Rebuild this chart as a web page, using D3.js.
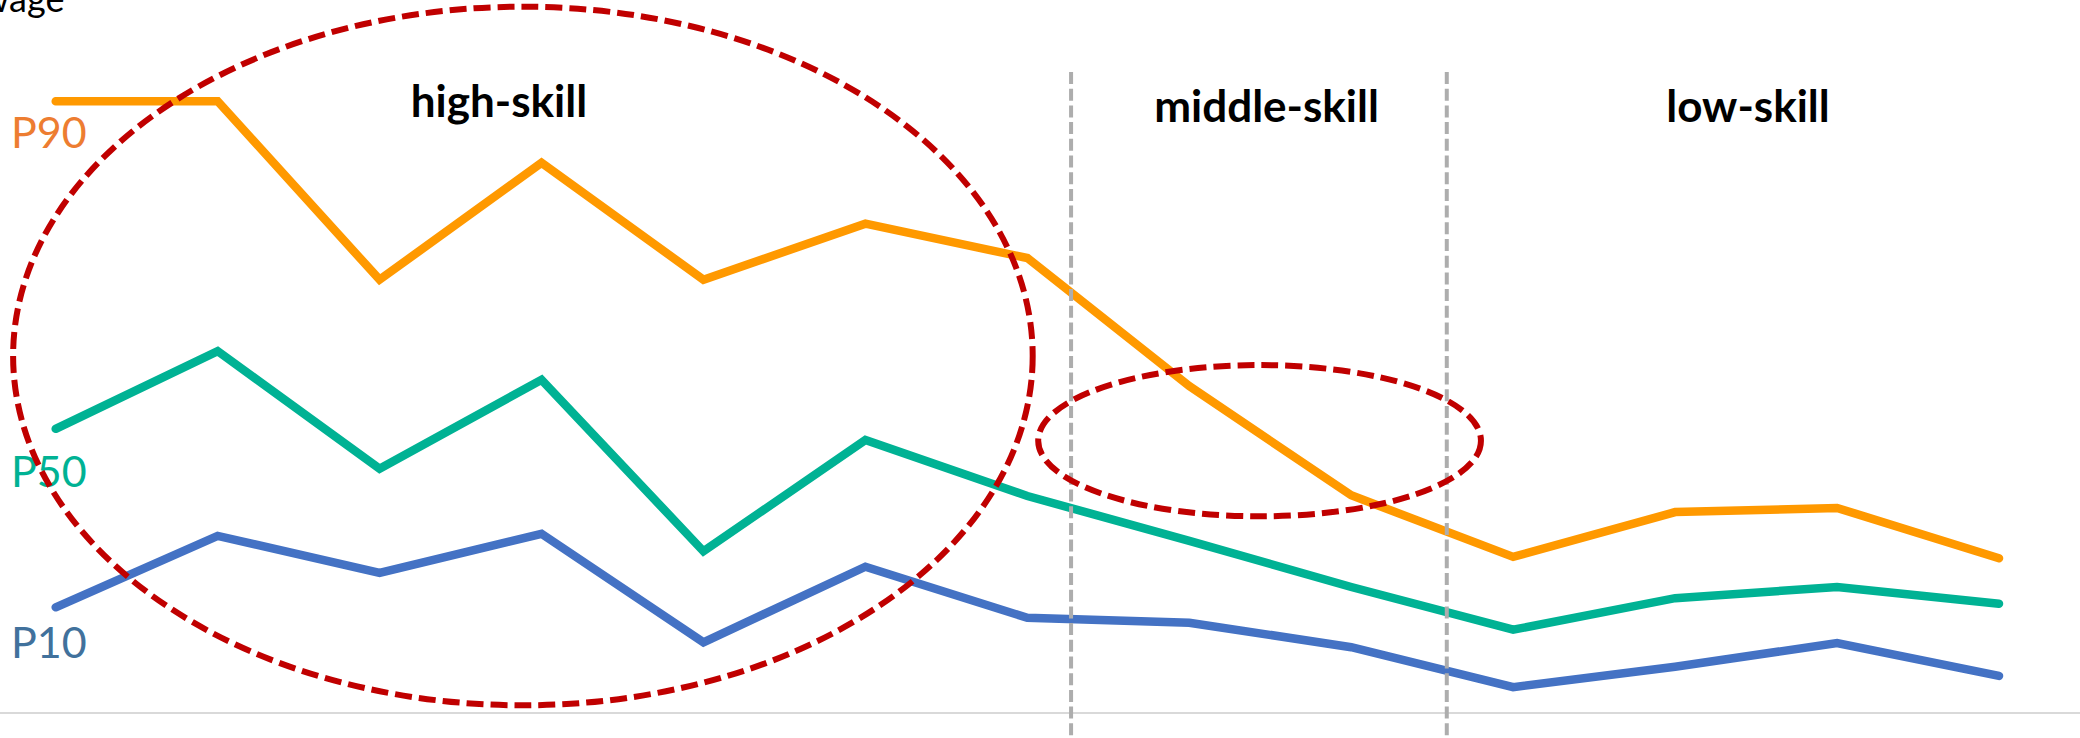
<!DOCTYPE html>
<html>
<head>
<meta charset="utf-8">
<script src="https://cdn.jsdelivr.net/npm/d3@7"></script>
<style>
  html, body { margin: 0; padding: 0; background: #fff; overflow: hidden; }
  svg { display: block; }
</style>
</head>
<body>
<svg id="chart"></svg>
<script>
// occupations ranked from high-skill to low-skill
const occupations = ["o1", "o2", "o3", "o4", "o5", "o6", "o7", "o8", "o9", "o10", "o11", "o12", "o13"];

const p90 = [87.4, 87.4, 61.9, 78.6, 61.9, 69.9, 65.0, 46.7, 31.1, 22.3, 28.7, 29.3, 22.1];
const p50 = [40.6, 51.7, 34.9, 47.6, 23.1, 39.0, 31.0, 24.6, 18.0, 11.9, 16.4, 18.0, 15.6];
const p10 = [15.1, 25.3, 20.0, 25.6, 10.1, 20.9, 13.6, 12.9, 9.4, 3.7, 6.6, 10.0, 5.3];

const seriesNames = ["P90", "P50", "P10"];

// group boundaries, in occupation-index units
const groupBreaks = [6.27, 8.59];
const groupLabels = ["high-skill", "middle-skill", "low-skill"];
const groupLabelPos = [2.737, 7.477, 10.45];

// highlighted areas (center and radii in data units)
const circles = [
  { cx: 2.885, cy: 51.0, rx: 3.148, ry: 49.9 },
  { cx: 7.434, cy: 38.9, rx: 1.367, ry: 10.8 },
];

const width = 2080;
const height = 738;

const svg = d3.select("#chart").attr("width", width).attr("height", height);

const xScale = d3
  .scaleLinear()
  .domain([0, occupations.length - 1])
  .range([55.7, 1999]);

const yScale = d3.scaleLinear().domain([0, 100]).range([713, 13]);

const series = [
  { name: seriesNames[0], values: p90, line: "#FF9900", label: "#ED7D31", labelY: 148 },
  { name: seriesNames[1], values: p50, line: "#00B294", label: "#00B294", labelY: 487 },
  { name: seriesNames[2], values: p10, line: "#4472C4", label: "#41719C", labelY: 658 },
];

// baseline
svg
  .append("line")
  .attr("x1", 0)
  .attr("x2", width)
  .attr("y1", yScale(0))
  .attr("y2", yScale(0))
  .style("stroke", "#D9D9D9")
  .style("stroke-width", 2);

// y axis title, partly cut off at the top left like the original
svg
  .append("text")
  .text("wage")
  .attr("x", -19)
  .attr("y", 12)
  .style("font-family", "Lato, 'Open Sans', sans-serif")
  .style("font-size", "36px")
  .style("fill", "#000");

const line = d3
  .line()
  .x((d, i) => xScale(i))
  .y((d) => yScale(d));

svg
  .selectAll(".series")
  .data(series)
  .enter()
  .append("path")
  .classed("series", true)
  .attr("d", (s) => line(s.values))
  .style("fill", "none")
  .style("stroke", (s) => s.line)
  .style("stroke-width", 8.5)
  .style("stroke-linecap", "round")
  .style("stroke-linejoin", "miter");

svg
  .selectAll(".series-label")
  .data(series)
  .enter()
  .append("text")
  .classed("series-label", true)
  .text((s) => s.name)
  .attr("x", 11)
  .attr("y", (s) => s.labelY)
  .style("font-family", "Lato, 'Open Sans', sans-serif")
  .style("font-size", "43px")
  .style("fill", (s) => s.label);

// dashed separators between skill groups
svg
  .selectAll(".sep")
  .data(groupBreaks)
  .enter()
  .append("line")
  .classed("sep", true)
  .attr("x1", (d) => xScale(d))
  .attr("x2", (d) => xScale(d))
  .attr("y1", 72)
  .attr("y2", height)
  .style("stroke", "#ADADAD")
  .style("stroke-width", 4)
  .style("stroke-dasharray", "12,4.7");

svg
  .selectAll(".group-label")
  .data(groupLabels)
  .enter()
  .append("text")
  .classed("group-label", true)
  .text((d) => d)
  .attr("x", (d, i) => xScale(groupLabelPos[i]))
  .attr("y", (d, i) => (i === 0 ? 117 : 122))
  .attr("text-anchor", "middle")
  .style("font-family", "Lato, 'Open Sans', sans-serif")
  .style("font-weight", "bold")
  .style("font-size", "44px")
  .style("fill", "#000");

// red dashed ellipses
const pxPerUnitX = xScale(1) - xScale(0);
const pxPerUnitY = yScale(0) - yScale(1);

svg
  .selectAll(".ring")
  .data(circles)
  .enter()
  .append("ellipse")
  .classed("ring", true)
  .attr("cx", (c) => xScale(c.cx))
  .attr("cy", (c) => yScale(c.cy))
  .attr("rx", (c) => c.rx * pxPerUnitX)
  .attr("ry", (c) => c.ry * pxPerUnitY)
  .style("fill", "none")
  .style("stroke", "#C00000")
  .style("stroke-width", 6)
  .style("stroke-dasharray", "17,7");
</script>
</body>
</html>
